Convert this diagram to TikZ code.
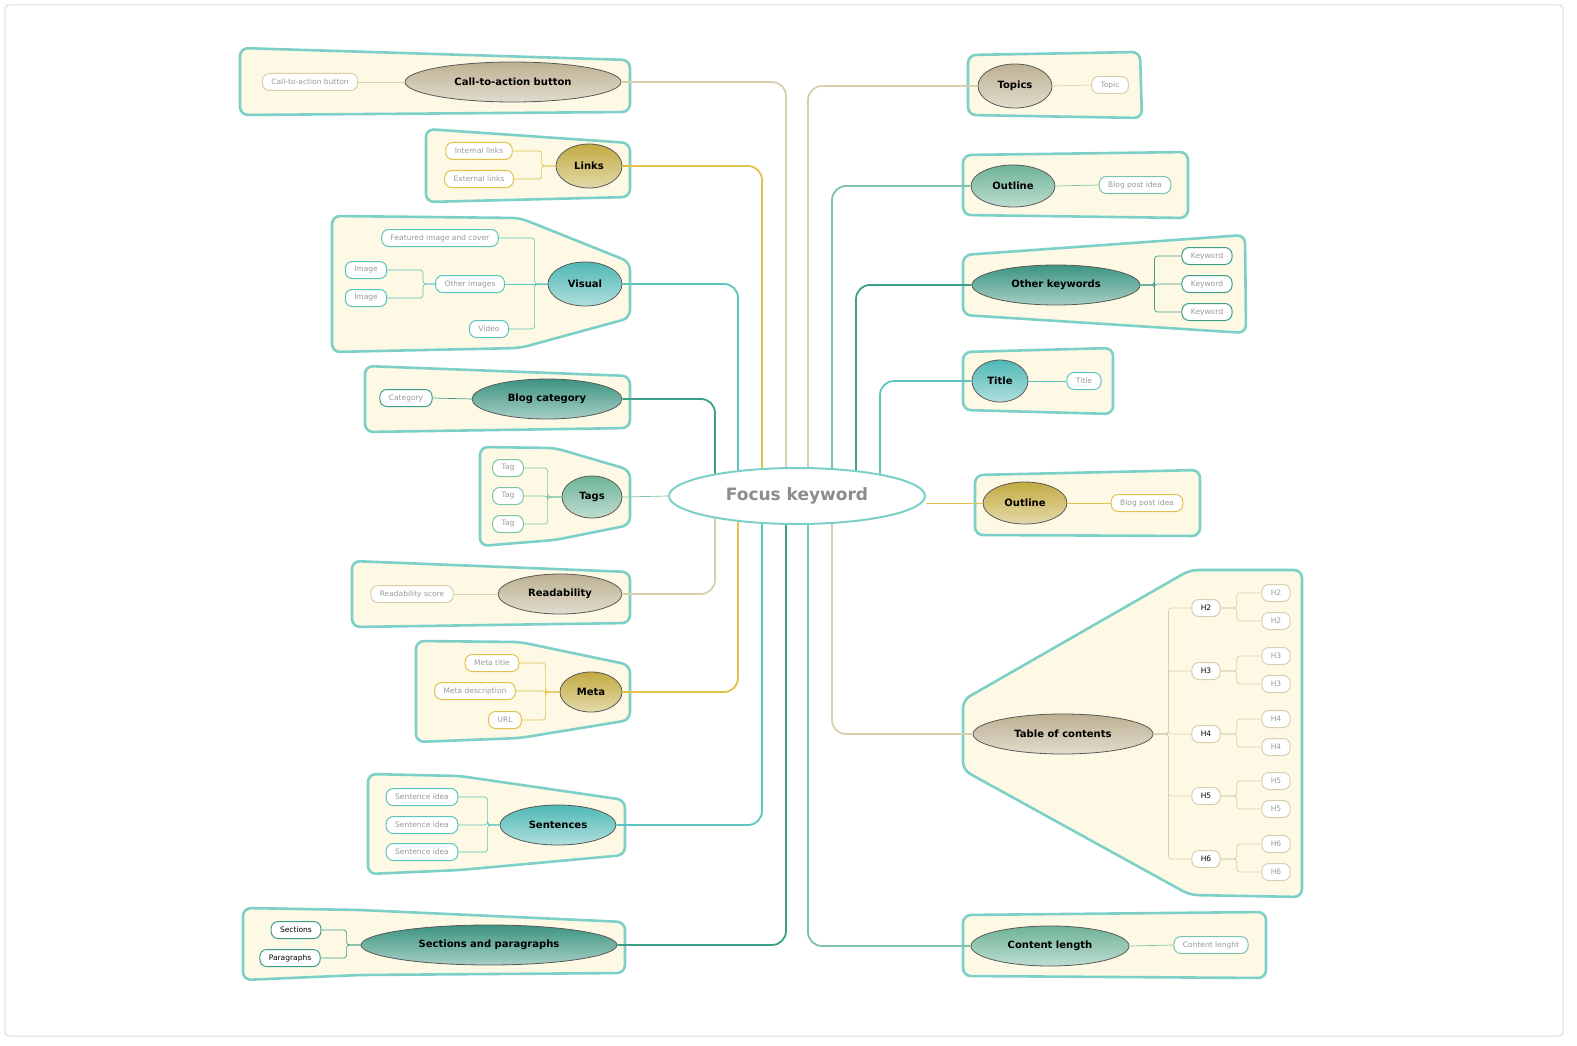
\documentclass[tikz,border=0pt]{standalone}
\usepackage{fontspec}
\setmainfont{DejaVu Sans}
\usetikzlibrary{shapes}
\definecolor{bdr}{HTML}{7DD0C8}
\definecolor{zonefill}{HTML}{FEF9E5}
\definecolor{beigeC}{HTML}{BDB192}
\definecolor{beigeL}{HTML}{D8CFAF}
\definecolor{yellowC}{HTML}{C2AB42}
\definecolor{yellowL}{HTML}{E0C24A}
\definecolor{tealC}{HTML}{4FB8B5}
\definecolor{tealL}{HTML}{5CC5BE}
\definecolor{greenC}{HTML}{6FB398}
\definecolor{greenL}{HTML}{7CC4A8}
\definecolor{dtealC}{HTML}{3C9480}
\definecolor{dtealL}{HTML}{3E9E88}
\definecolor{leaftext}{HTML}{999999}

\tikzset{
  zone/.style={draw=bdr, fill=zonefill, line width=2.6pt, rounded corners=8pt},
  topic/.style={ellipse, draw=black!65, line width=0.8pt, inner sep=0pt,
    top color=#1, bottom color=#1!45!white,
    font=\bfseries\fontsize{10}{12}\selectfont},
  leaf/.style={rounded corners=7pt, draw=#1, fill=white, line width=1pt,
    minimum height=17pt, inner xsep=9pt, inner ysep=0pt, text=leaftext,
    font=\fontsize{7.5}{9}\selectfont},
  link/.style={draw=#1, line width=0.7pt, rounded corners=3pt},
  branch/.style={draw=#1, line width=1.8pt, rounded corners=14pt},
}

\begin{document}
\begin{tikzpicture}[x=1pt, y=-1pt]
\useasboundingbox (0,0) rectangle (1577,1046);
\draw[black!15, line width=1pt, rounded corners=4pt] (5,5) rectangle (1563,1036);

% zones, left side
\draw[zone] (240,48) -- (630,60) -- (630,112) -- (240,115) -- cycle;
\draw[zone] (426,129) -- (630,143) -- (630,197) -- (426,202) -- cycle;
\draw[zone] (332,216) -- (520,218) -- (630,262) -- (630,318) -- (520,348) -- (332,352) -- cycle;
\draw[zone] (365,366) -- (630,376) -- (630,428) -- (365,432) -- cycle;
\draw[zone] (480,447) -- (555,448) -- (630,470) -- (630,525) -- (555,540) -- (480,546) -- cycle;
\draw[zone] (352,561) -- (630,572) -- (630,623) -- (352,627) -- cycle;
\draw[zone] (416,641) -- (520,642) -- (630,665) -- (630,720) -- (520,738) -- (416,742) -- cycle;
\draw[zone] (368,774) -- (460,776) -- (625,800) -- (625,855) -- (460,870) -- (368,874) -- cycle;
\draw[zone] (243,908) -- (360,910) -- (625,922) -- (625,973) -- (360,975) -- (243,980) -- cycle;
% zones, right side
\draw[zone] (968,55) -- (1140,52) -- (1142,118) -- (968,115) -- cycle;
\draw[zone] (963,155) -- (1188,152) -- (1188,218) -- (963,215) -- cycle;
\draw[zone] (963,255) -- (1245,235) -- (1246,333) -- (963,315) -- cycle;
\draw[zone] (963,352) -- (1113,348) -- (1113,414) -- (963,410) -- cycle;
\draw[zone] (975,475) -- (1200,470) -- (1200,536) -- (975,535) -- cycle;
\draw[zone] (963,700) -- (1190,570) -- (1302,570) -- (1302,897) -- (1190,895) -- (963,770) -- cycle;
\draw[zone] (963,915) -- (1266,912) -- (1266,978) -- (963,976) -- cycle;

% main topics
\node[topic=beigeC, minimum width=216, minimum height=40] (cta) at (513,82) {Call-to-action button};
\node[topic=yellowC, minimum width=66, minimum height=44] (links) at (589,166) {Links};
\node[topic=tealC, minimum width=74, minimum height=44] (visual) at (585,284) {Visual};
\node[topic=dtealC, minimum width=150, minimum height=40] (blogcat) at (547,399) {Blog category};
\node[topic=greenC, minimum width=60, minimum height=42] (tags) at (592,497) {Tags};
\node[topic=beigeC, minimum width=124, minimum height=40] (read) at (560,594) {Readability};
\node[topic=yellowC, minimum width=62, minimum height=40] (meta) at (591,692) {Meta};
\node[topic=tealC, minimum width=116, minimum height=40] (sent) at (558,825) {Sentences};
\node[topic=dtealC, minimum width=256, minimum height=40] (secs) at (489,945) {Sections and paragraphs};
\node[topic=beigeC, minimum width=74, minimum height=44] (topics) at (1015,86) {Topics};
\node[topic=greenC, minimum width=84, minimum height=42] (outline) at (1013,186) {Outline};
\node[topic=dtealC, minimum width=168, minimum height=40] (otherkw) at (1056,285) {Other keywords};
\node[topic=tealC, minimum width=56, minimum height=42] (title) at (1000,381) {Title};
\node[topic=yellowC, minimum width=84, minimum height=42] (outline2) at (1025,503) {Outline};
\node[topic=beigeC, minimum width=180, minimum height=40] (toc) at (1063,734) {Table of contents};
\node[topic=greenC, minimum width=158, minimum height=40] (clen) at (1050,946) {Content length};

% leaves, left side
\node[leaf=beigeL] (l-cta) at (310,82) {Call-to-action button};
\node[leaf=yellowL] (l-int) at (479,151) {Internal links};
\node[leaf=yellowL] (l-ext) at (479,179) {External links};
\node[leaf=tealL] (l-feat) at (440,238) {Featured image and cover};
\node[leaf=tealL] (l-other) at (470,284) {Other images};
\node[leaf=tealL] (l-video) at (489,329) {Video};
\node[leaf=tealL] (l-img1) at (366,270) {Image};
\node[leaf=tealL] (l-img2) at (366,298) {Image};
\node[leaf=dtealL] (l-cat) at (406,398) {Category};
\node[leaf=greenL] (l-tag1) at (508,468) {Tag};
\node[leaf=greenL] (l-tag2) at (508,496) {Tag};
\node[leaf=greenL] (l-tag3) at (508,524) {Tag};
\node[leaf=beigeL] (l-read) at (412,594) {Readability score};
\node[leaf=yellowL] (l-mtitle) at (492,663) {Meta title};
\node[leaf=yellowL] (l-mdesc) at (475,691) {Meta description};
\node[leaf=yellowL] (l-url) at (505,720) {URL};
\node[leaf=tealL] (l-s1) at (422,797) {Sentence idea};
\node[leaf=tealL] (l-s2) at (422,825) {Sentence idea};
\node[leaf=tealL] (l-s3) at (422,852) {Sentence idea};
\node[leaf=dtealL, text=black] (l-sections) at (296,930) {Sections};
\node[leaf=dtealL, text=black] (l-paras) at (290,958) {Paragraphs};
% leaves, right side
\node[leaf=beigeL] (l-topic) at (1110,85) {Topic};
\node[leaf=greenL] (l-idea) at (1135,185) {Blog post idea};
\node[leaf=dtealL] (l-kw1) at (1207,256) {Keyword};
\node[leaf=dtealL] (l-kw2) at (1207,284) {Keyword};
\node[leaf=dtealL] (l-kw3) at (1207,312) {Keyword};
\node[leaf=tealL] (l-title) at (1084,381) {Title};
\node[leaf=yellowL] (l-idea2) at (1147,503) {Blog post idea};
\node[leaf=greenL] (l-clen) at (1211,945) {Content lenght};
\foreach \h/\y in {2/608,3/671,4/734,5/796,6/859}{
  \node[leaf=beigeL, text=black] (l-h\h) at (1206,\y) {H\h};
  \node[leaf=beigeL] (l-h\h a) at (1276,\y-15) {H\h};
  \node[leaf=beigeL] (l-h\h b) at (1276,\y+13) {H\h};
  \draw[link=beigeL] (toc.east) -- ++(15,0) |- (l-h\h.west);
  \draw[link=beigeL] (l-h\h.east) -- ++(16,0) |- (l-h\h a.west);
  \draw[link=beigeL] (l-h\h.east) -- ++(16,0) |- (l-h\h b.west);
}

% links inside zones
\draw[link=beigeL] (cta.west) -- (l-cta.east);
\draw[link=yellowL] (links.west) -- ++(-14,0) |- (l-int.east);
\draw[link=yellowL] (links.west) -- ++(-14,0) |- (l-ext.east);
\draw[link=tealL] (visual.west) -- (l-other.east);
\draw[link=tealL] (visual.west) -- ++(-13,0) |- (l-feat.east);
\draw[link=tealL] (visual.west) -- ++(-13,0) |- (l-video.east);
\draw[link=tealL] (l-other.west) -- ++(-12,0) |- (l-img1.east);
\draw[link=tealL] (l-other.west) -- ++(-12,0) |- (l-img2.east);
\draw[link=dtealL] (blogcat.west) -- (l-cat.east);
\foreach \t in {1,2,3}
  \draw[link=greenL] (tags.west) -- ++(-14,0) |- (l-tag\t.east);
\draw[link=beigeL] (read.west) -- (l-read.east);
\foreach \t in {mtitle,mdesc,url}
  \draw[link=yellowL] (meta.west) -- ++(-14,0) |- (l-\t.east);
\foreach \t in {1,2,3}
  \draw[link=tealL] (sent.west) -- ++(-12,0) |- (l-s\t.east);
\draw[link=dtealL] (secs.west) -- ++(-14,0) |- (l-sections.east);
\draw[link=dtealL] (secs.west) -- ++(-14,0) |- (l-paras.east);
\draw[link=beigeL] (topics.east) -- (l-topic.west);
\draw[link=greenL] (outline.east) -- (l-idea.west);
\foreach \t in {1,2,3}
  \draw[link=dtealL] (otherkw.east) -- ++(14,0) |- (l-kw\t.west);
\draw[link=tealL] (title.east) -- (l-title.west);
\draw[link=yellowL] (outline2.east) -- (l-idea2.west);
\draw[link=greenL] (clen.east) -- (l-clen.west);

% branches to the centre
\coordinate (b-cta) at (786,496);
\coordinate (b-links) at (762,496);
\coordinate (b-visual) at (738,496);
\coordinate (b-blogcat) at (715,496);
\coordinate (b-read) at (715,496);
\coordinate (b-meta) at (738,496);
\coordinate (b-sent) at (762,496);
\coordinate (b-secs) at (786,496);
\coordinate (b-topics) at (808,496);
\coordinate (b-outline) at (832,496);
\coordinate (b-otherkw) at (856,496);
\coordinate (b-title) at (880,496);
\coordinate (b-toc) at (832,496);
\coordinate (b-clen) at (808,496);
\draw[branch=beigeL] (cta.east) -| (b-cta);
\draw[branch=yellowL] (links.east) -| (b-links);
\draw[branch=tealL] (visual.east) -| (b-visual);
\draw[branch=dtealL] (blogcat.east) -| (b-blogcat);
\draw[branch=beigeL] (read.east) -| (b-read);
\draw[branch=yellowL] (meta.east) -| (b-meta);
\draw[branch=tealL] (sent.east) -| (b-sent);
\draw[branch=dtealL] (secs.east) -| (b-secs);
\draw[branch=beigeL] (topics.west) -| (b-topics);
\draw[branch=greenL] (outline.west) -| (b-outline);
\draw[branch=dtealL] (otherkw.west) -| (b-otherkw);
\draw[branch=tealL] (title.west) -| (b-title);
\draw[branch=beigeL] (toc.west) -| (b-toc);
\draw[branch=greenL] (clen.west) -| (b-clen);

% centre
\node[ellipse, draw=bdr, fill=white, line width=2pt, minimum width=256, minimum height=56,
  text=black!45, font=\bfseries\fontsize{17}{20}\selectfont] (focus) at (797,496) {Focus keyword};
\draw[link=greenL] (tags.east) -- (focus.west);
\draw[link=yellowL] (outline2.west) -- (outline2.west -| focus.east);
\end{tikzpicture}
\end{document}
